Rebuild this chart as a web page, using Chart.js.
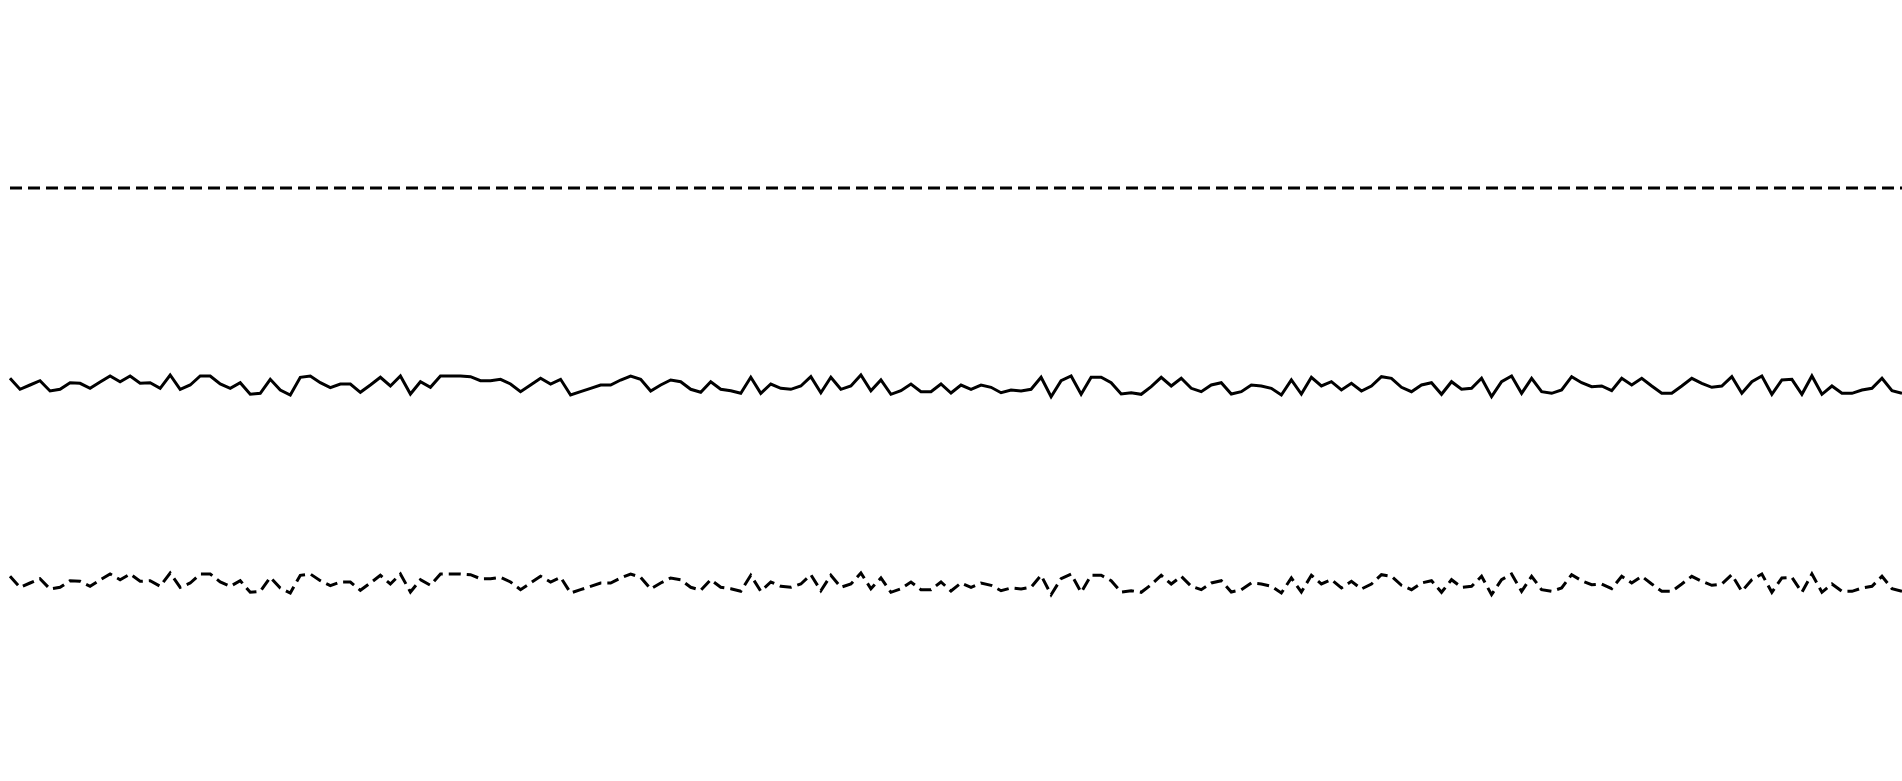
<!DOCTYPE html>
<html>
<head>
<meta charset="utf-8">
<script src="https://cdn.jsdelivr.net/npm/chart.js@4"></script>
<style>
  html, body { margin: 0; padding: 0; background: #ffffff; }
  #wrap { width: 1902px; height: 781px; position: relative; }
</style>
</head>
<body>
<div id="wrap"><canvas id="c"></canvas></div>
<script>
// Series values (arbitrary units, 190 samples)
const samples = [
  21.7, 10.7, 15, 19.3, 9, 10.7, 17.3, 16.7, 11.7, 18,
  24, 18.3, 24, 16.7, 17.3, 11.7, 25, 10.7, 15, 24,
  24, 16, 11.7, 17.3, 5.7, 6.7, 20.7, 10, 5, 22.7,
  24, 17.3, 12.3, 16, 16, 7.7, 15, 22.7, 14, 24,
  6, 18.3, 12.7, 24, 24, 24, 23.3, 19.3, 19.3, 20.7,
  16, 8.3, 15, 21.7, 16, 20.7, 5, 8.3, 11.7, 15,
  15, 20, 24, 20.7, 9, 15, 20, 18.3, 10.7, 7.7,
  18.3, 10.7, 9.3, 6.7, 22.7, 6.7, 16, 11.7, 10.7, 14,
  23.3, 7.3, 22.7, 10.7, 14, 25, 9.3, 20, 5.7, 9.3,
  16, 8.3, 8.3, 16, 7, 15, 10.7, 15, 12.7, 7.3,
  10, 9, 10.7, 22.7, 3.3, 19.3, 24, 5.7, 22.7, 22.7,
  17.3, 6, 7.3, 5.7, 13.3, 22.7, 14, 21.7, 11.7, 8.3,
  15, 17.3, 6, 8.3, 15, 14, 11.7, 5, 20, 6,
  22.7, 14, 18.3, 10, 16.7, 9, 14, 23.3, 21.7, 12.7,
  8.3, 15, 17.3, 5.7, 18.3, 10.7, 11.7, 21.7, 3.3, 18.3,
  24, 6.7, 21.7, 8.3, 6.7, 10, 23.3, 17.3, 13.3, 14,
  9.3, 21.7, 15, 21.7, 14, 6.7, 6.7, 14, 21.7, 16.7,
  12.7, 14, 23.3, 6.7, 18.3, 24, 5.7, 20, 20.7, 5.7,
  24, 5.7, 14, 6.7, 6.7, 10, 11.7, 21.7, 9.3, 6.7
];
const categories = samples.map((_, i) => String(i + 1));
const thresholdLevel = 212;

const ctx = document.getElementById('c');
new Chart(ctx, {
  type: 'line',
  data: {
    labels: categories,
    datasets: [
      {
        label: 'threshold',
        data: categories.map(() => thresholdLevel),
        borderColor: '#000000',
        borderWidth: 3,
        borderDash: [12, 6],
        pointRadius: 0,
        tension: 0,
        yAxisID: 'y'
      },
      {
        label: 'signal',
        data: samples,
        borderColor: '#000000',
        borderWidth: 3,
        pointRadius: 0,
        tension: 0,
        yAxisID: 'y'
      },
      {
        label: 'signal (shifted)',
        data: samples,
        borderColor: '#000000',
        borderWidth: 3,
        borderDash: [12, 6],
        pointRadius: 0,
        tension: 0,
        yAxisID: 'y2'
      }
    ]
  },
  options: {
    responsive: true,
    maintainAspectRatio: false,
    animation: false,
    layout: { padding: { left: 10, right: 0, top: 0, bottom: 0 } },
    plugins: { legend: { display: false }, tooltip: { enabled: false } },
    scales: {
      x: { display: false, offset: false },
      y: { display: false, min: -381, max: 400 },
      y2: { display: false, min: -183, max: 598 }
    }
  }
});
</script>
</body>
</html>
